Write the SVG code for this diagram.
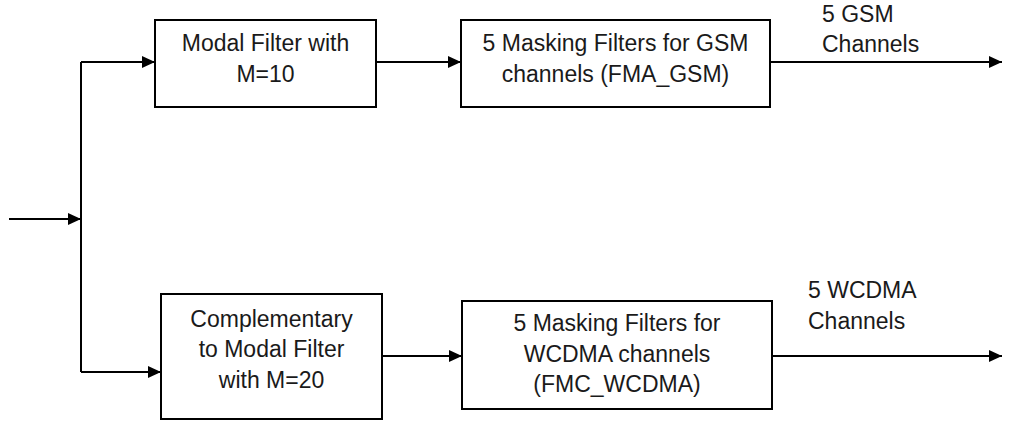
<svg xmlns="http://www.w3.org/2000/svg" width="1011" height="422" viewBox="0 0 1011 422">
<defs>
<marker id="ah" markerUnits="userSpaceOnUse" markerWidth="14" markerHeight="12" refX="13" refY="6" orient="auto">
<path d="M0,0 L13,6 L0,12 z" fill="#000"/>
</marker>
<style>
.box{fill:#fff;stroke:#000;stroke-width:2}
.ln{fill:none;stroke:#000;stroke-width:2}
.t{font-family:"Liberation Sans",Arial,sans-serif;font-size:23px;fill:#1a1a1a}
.c{text-anchor:middle}
</style>
</defs>
<rect width="1011" height="422" fill="#fff"/>
<g id="connectors">
<path class="ln" d="M9,219 L81,219" marker-end="url(#ah)"/>
<path class="ln" d="M81,62 L81,372"/>
<path class="ln" d="M81,62 L155,62" marker-end="url(#ah)"/>
<path class="ln" d="M81,372 L161,372" marker-end="url(#ah)"/>
<path class="ln" d="M376,62 L461,62" marker-end="url(#ah)"/>
<path class="ln" d="M770,62 L1002,62" marker-end="url(#ah)"/>
<path class="ln" d="M382,356 L462,356" marker-end="url(#ah)"/>
<path class="ln" d="M772,356 L1002,356" marker-end="url(#ah)"/>
</g>
<g id="modal">
<rect class="box" x="155" y="20" width="221" height="87"/>
<text class="t c" x="265.5" y="51">Modal Filter with</text>
<text class="t c" x="265.5" y="82">M=10</text>
</g>
<g id="gsm">
<rect class="box" x="461" y="20" width="309" height="87"/>
<text class="t c" x="615.5" y="51">5 Masking Filters for GSM</text>
<text class="t c" x="615.5" y="82">channels (FMA_GSM)</text>
</g>
<g id="complementary">
<rect class="box" x="161" y="294" width="221" height="125"/>
<text class="t c" x="271.5" y="327">Complementary</text>
<text class="t c" x="271.5" y="357">to Modal Filter</text>
<text class="t c" x="271.5" y="388">with M=20</text>
</g>
<g id="wcdma">
<rect class="box" x="462" y="301" width="310" height="108"/>
<text class="t c" x="617" y="331">5 Masking Filters for</text>
<text class="t c" x="617" y="362">WCDMA channels</text>
<text class="t c" x="617" y="392">(FMC_WCDMA)</text>
</g>
<g id="labels">
<text class="t" x="822" y="22">5 GSM</text>
<text class="t" x="822" y="52">Channels</text>
<text class="t" x="808" y="298">5 WCDMA</text>
<text class="t" x="808" y="329">Channels</text>
</g>
</svg>
